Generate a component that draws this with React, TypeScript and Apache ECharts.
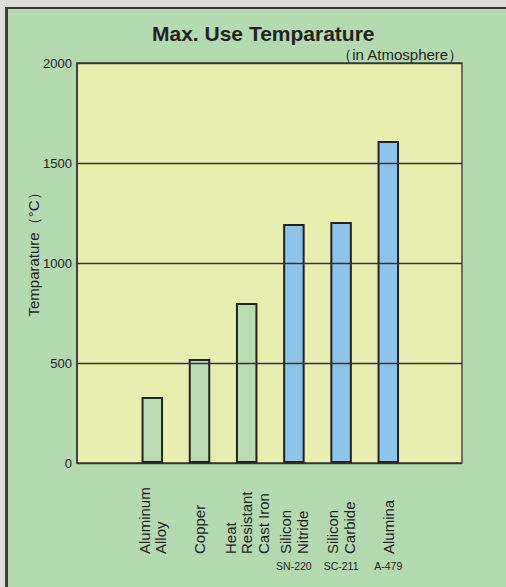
import React, { useEffect, useRef } from "react";
import * as echarts from "echarts";

const categories = ["Aluminum\nAlloy", "Copper", "Heat\nResistant\nCast Iron", "Silicon\nNitride", "Silicon\nCarbide", "Alumina"];
const gradeCodes = ["", "", "", "SN-220", "SC-211", "A-479"];
const maxTemps = [330, 520, 800, 1195, 1205, 1610];
const isCeramic = [false, false, false, true, true, true];
const yTicks = [0, 500, 1000, 1500, 2000];
const yAxisTitle = "Temparature（°C）";

const FONT = "'Liberation Sans', Arial, Helvetica, sans-serif";

export default function App() {
  const ref = useRef<HTMLDivElement>(null);
  useEffect(() => {
    if (!ref.current) return;
    const chart = echarts.init(ref.current, undefined, { renderer: "svg" });
    const option: any = {
      animation: false,
      backgroundColor: "transparent",
      textStyle: { fontFamily: FONT, color: "#222" },
      title: [
        {
          text: "Max. Use Temparature",
          left: 152,
          top: 23,
          padding: 0,
          textStyle: { fontSize: 21, fontWeight: "bold", color: "#222", fontFamily: FONT },
        },
        {
          text: "（in Atmosphere）",
          right: 42,
          top: 47,
          padding: 0,
          textStyle: { fontSize: 15, fontWeight: "normal", color: "#222", fontFamily: FONT },
        },
      ],
      graphic: [
        {
          type: "text",
          x: 33,
          y: 251,
          rotation: Math.PI / 2,
          style: {
            text: yAxisTitle,
            fontSize: 15,
            fontFamily: FONT,
            fill: "#222",
            align: "center",
            verticalAlign: "middle",
          },
        },
      ],
      grid: [
        {
          left: 77,
          top: 63,
          width: 385,
          height: 400,
          show: true,
          backgroundColor: "#e8eeb0",
          borderColor: "#4a4a4a",
          borderWidth: 1.5,
          containLabel: false,
        },
        {
          left: 128.7,
          top: 63,
          width: 283.2,
          height: 400,
          containLabel: false,
        },
      ],
      xAxis: [
        { gridIndex: 0, type: "value", min: 0, max: 1, show: false },
        {
          gridIndex: 1,
          type: "category",
          data: categories,
          axisLine: { show: false },
          axisTick: { show: false },
          axisLabel: {
            interval: 0,
            rotate: 90,
            align: "left",
            margin: 91,
            fontSize: 15,
            lineHeight: 16.5,
            padding: [0, 0, 6, 0],
            color: "#222",
            fontFamily: FONT,
          },
        },
        {
          gridIndex: 1,
          type: "category",
          position: "bottom",
          data: gradeCodes,
          axisLine: { show: false },
          axisTick: { show: false },
          axisLabel: {
            interval: 0,
            margin: 97,
            fontSize: 10.5,
            color: "#222",
            fontFamily: FONT,
          },
        },
      ],
      yAxis: [
        {
          gridIndex: 0,
          type: "value",
          min: yTicks[0],
          max: yTicks[yTicks.length - 1],
          interval: 500,
          z: 5,
          axisLine: { show: true, lineStyle: { color: "#333", width: 1.5 } },
          axisTick: { show: false },
          axisLabel: { fontSize: 13, color: "#222", margin: 5, fontFamily: FONT, formatter: (v: number) => String(v) },
          splitLine: { show: true, lineStyle: { color: "#333", width: 1.3 } },
        },
        { gridIndex: 1, type: "value", min: 0, max: 2000, show: false },
      ],
      series: [
        {
          type: "bar",
          xAxisIndex: 1,
          yAxisIndex: 1,
          barWidth: 21.5,
          data: maxTemps.map((v, i) => ({
            value: v,
            itemStyle: {
              color: isCeramic[i] ? "#8fc4ea" : "#b9dcb1",
              borderColor: "#222",
              borderWidth: 2,
            },
          })),
        },
      ],
    };
    chart.setOption(option);
    return () => chart.dispose();
  }, []);
  return (
    <div style={{ position: "fixed", left: 0, top: 0, width: 506, height: 587, background: "#b4dab0", overflow: "hidden" }}>
      <div style={{ position: "absolute", left: 0, top: 0, width: 506, height: 7, background: "#e0dcd9" }} />
      <div style={{ position: "absolute", left: 0, top: 0, width: 5, height: 587, background: "#e0dcd9" }} />
      <div style={{ position: "absolute", left: 5, top: 7, width: 501, height: 2, background: "#3a3a3a" }} />
      <div style={{ position: "absolute", left: 5, top: 7, width: 3, height: 580, background: "#3a3a3a" }} />
      <div ref={ref} style={{ position: "absolute", left: 0, top: 0, width: 506, height: 587 }} />
    </div>
  );
}
